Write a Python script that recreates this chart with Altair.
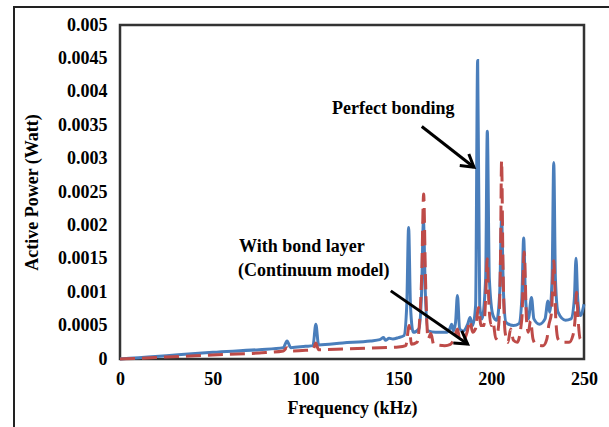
import math
import altair as alt
import pandas as pd

# Perfect bonding (blue, solid)
blue_f = [0, 10, 25, 50, 75, 88, 90, 92, 100, 104, 105.5, 107, 120, 135, 140, 142, 143, 145, 147, 150,
          153, 154.5, 155.5, 156.5, 158, 161, 162.5, 163.5, 164.5, 166, 170, 176, 177.8, 178.7, 179.6,
          180.8, 181.8, 183, 185, 187.3, 188.6, 190, 191.6, 192.7, 193.8, 195, 197, 197.9, 199, 201,
          203, 204.6, 205.6, 206.6, 208, 212, 215, 216.5, 217.5, 218.5, 220, 221.7, 223, 226, 229,
          230.6, 231.5, 232.8, 233.7, 234.6, 236, 240, 243, 244.8, 245.7, 246.6, 248, 250]
blue_w = [0.0, 0.00002, 0.00005, 0.00010, 0.00014, 0.00017, 0.00027, 0.00017, 0.00019, 0.0002, 0.00052,
          0.00021, 0.00024, 0.00027, 0.00029, 0.00032, 0.00028, 0.00031, 0.0003, 0.00032,
          0.00035, 0.0008, 0.00197, 0.0008, 0.0004, 0.00045, 0.001, 0.00207, 0.001, 0.00042, 0.0004,
          0.0004, 0.00046, 0.00052, 0.00042,
          0.00055, 0.00095, 0.00045, 0.00042, 0.00052, 0.00062, 0.0005, 0.0008, 0.00447, 0.0008,
          0.0006, 0.0012, 0.00341, 0.0012, 0.00065,
          0.00058, 0.001, 0.0021, 0.001, 0.00055, 0.0005, 0.00053, 0.0009, 0.00181, 0.0009, 0.0006,
          0.00092, 0.0006, 0.00052, 0.0006,
          0.00087, 0.0007, 0.0012, 0.00294, 0.0012, 0.0007, 0.00058, 0.0006, 0.0009, 0.00151, 0.0009,
          0.00065, 0.00082]

# With bond layer (red, dashed)
red_f = [0, 10, 25, 50, 75, 88, 90, 92, 100, 104, 105.5, 107, 120, 140, 150, 154, 155.8, 157, 160,
         162.5, 163.6, 164.6, 166, 167.5, 169, 175, 178, 180, 181.8, 183, 185, 187, 188.5, 190, 191.5,
         193.2, 194.5, 196, 197, 197.9, 198.8, 200, 201, 202.5, 204, 205, 205.6, 206.3, 207.5, 209,
         210.5, 212, 214, 216.5, 217.8, 219, 220, 221.2, 222.5, 224, 228, 230, 231, 232.5, 233.7,
         234.8, 236, 238, 242, 244, 245.2, 246, 246.8, 248, 250]
red_w = [0.0, 0.00001, 0.00003, 0.00006, 0.00009, 0.00012, 0.00017, 0.00012, 0.00013, 0.00014, 0.00024,
         0.00014, 0.00015, 0.00017, 0.00018, 0.0002, 0.0005, 0.00022, 0.00025,
         0.0012, 0.00247, 0.0012, 0.0003, 0.00038, 0.00022, 0.0002, 0.00022, 0.0003, 0.00045, 0.0003,
         0.00028, 0.0004, 0.00057, 0.0004, 0.00045,
         0.00077, 0.0005, 0.0005, 0.0009, 0.0015, 0.0008, 0.0005, 0.00055, 0.0003, 0.0005, 0.0015,
         0.00297, 0.0015, 0.0004, 0.00025,
         0.00045, 0.00028, 0.00025, 0.0006, 0.0016, 0.0006, 0.0004, 0.00057, 0.0003, 0.00022, 0.0002,
         0.0003, 0.0005, 0.0007, 0.00147,
         0.0006, 0.0003, 0.00025, 0.00025, 0.00035, 0.0006, 0.001, 0.0006, 0.0003, 0.00033]

x_ticks = [0, 50, 100, 150, 200, 250]
y_ticks = [0, 0.0005, 0.001, 0.0015, 0.002, 0.0025, 0.003, 0.0035, 0.004, 0.0045, 0.005]

ann_text = ["Perfect bonding", "With bond layer", "(Continuum model)"]
ann_f = [114.2, 64.1, 63.6]
ann_w = [0.00375, 0.00167, 0.00131]

arrow_f1 = [162.6, 145.9]
arrow_w1 = [0.00348, 0.00102]
arrow_f2 = [190.7, 187.3]
arrow_w2 = [0.00287, 0.000225]

W, H = 464, 334
XMAX, YMAX = 250, 0.005
FONT = "Liberation Serif"
FS = 18
BLUE = "#4A7EBB"
RED = "#BE4B48"

blue_df = pd.DataFrame({"f": blue_f, "w": blue_w})
red_df = pd.DataFrame({"f": red_f, "w": red_w})
ann_df = pd.DataFrame({"t": ann_text, "f": ann_f, "w": ann_w})
angles = [math.degrees(math.atan2((a - b) / YMAX * H, (d - c) / XMAX * W))
          for a, b, c, d in zip(arrow_w1, arrow_w2, arrow_f1, arrow_f2)]
arr_df = pd.DataFrame({"f1": arrow_f1, "w1": arrow_w1, "f2": arrow_f2, "w2": arrow_w2, "ang": angles})

xs = alt.Scale(domain=[0, XMAX], nice=False)
ys = alt.Scale(domain=[0, YMAX], nice=False)

label_expr = "datum.value == 0 ? '0' : format(datum.value, '.4~f')"

xaxis = alt.Axis(values=x_ticks, title="Frequency (kHz)", ticks=False, grid=False, domain=False,
                 labelFlush=False, labelOverlap=False,
                 labelFont=FONT, labelFontSize=FS, labelFontWeight="bold", labelColor="black",
                 labelPadding=11, titleFont=FONT, titleFontSize=FS, titleFontWeight="bold",
                 titleColor="black", titleY=49, titleBaseline="middle")
yaxis = alt.Axis(values=y_ticks, title="Active Power (Watt)", ticks=False, grid=False, domain=False,
                 labelExpr=label_expr, labelFlush=False, labelOverlap=False,
                 labelFont=FONT, labelFontSize=FS, labelFontWeight="bold", labelColor="black",
                 labelPadding=13, titleFont=FONT, titleFontSize=FS, titleFontWeight="bold",
                 titleColor="black", titleX=-88, titleY=H / 2, titleBaseline="middle",
                 titleAlign="center", titleAngle=-90)


def X(field):
    return alt.X(field, scale=xs, axis=xaxis)


def Y(field):
    return alt.Y(field, scale=ys, axis=yaxis)


frame = alt.Chart(pd.DataFrame({"a": [0]})).mark_rect(
    fill=None, stroke="#222222", strokeWidth=2, clip=False
).encode(x=alt.value(-106), x2=alt.value(W + 40), y=alt.value(-18), y2=alt.value(H + 100))

blue = alt.Chart(blue_df).mark_line(color=BLUE, strokeWidth=3, interpolate="monotone").encode(
    x=X("f:Q"), y=Y("w:Q"))
red = alt.Chart(red_df).mark_line(color=RED, strokeWidth=3, strokeDash=[15, 7],
                                  interpolate="monotone").encode(x=X("f:Q"), y=Y("w:Q"))

texts = alt.Chart(ann_df).mark_text(font=FONT, fontSize=FS, fontWeight="bold", color="black",
                                    align="left", baseline="middle").encode(
    x=X("f:Q"), y=Y("w:Q"), text="t:N")

shafts = alt.Chart(arr_df).mark_rule(color="black", strokeWidth=3).encode(
    x=X("f1:Q"), y=Y("w1:Q"), x2="f2:Q", y2="w2:Q")

heads = alt.Chart(arr_df).mark_point(
    shape="M -1 -0.6 L 0 0 L -1 0.6", filled=False, color="black", strokeWidth=3, size=600, opacity=1
).encode(x=X("f2:Q"), y=Y("w2:Q"), angle=alt.Angle("ang:Q", scale=None))

chart = alt.layer(blue, frame, red, shafts, heads, texts).properties(
    width=W, height=H,
    background="white",
    autosize=alt.AutoSizeParams(type="none"),
    padding={"left": 120, "top": 25, "right": 25, "bottom": 68},
).configure_view(stroke="#333333", strokeWidth=2.5)

chart.save("out.html", embed_options={"renderer": "svg", "actions": False})
